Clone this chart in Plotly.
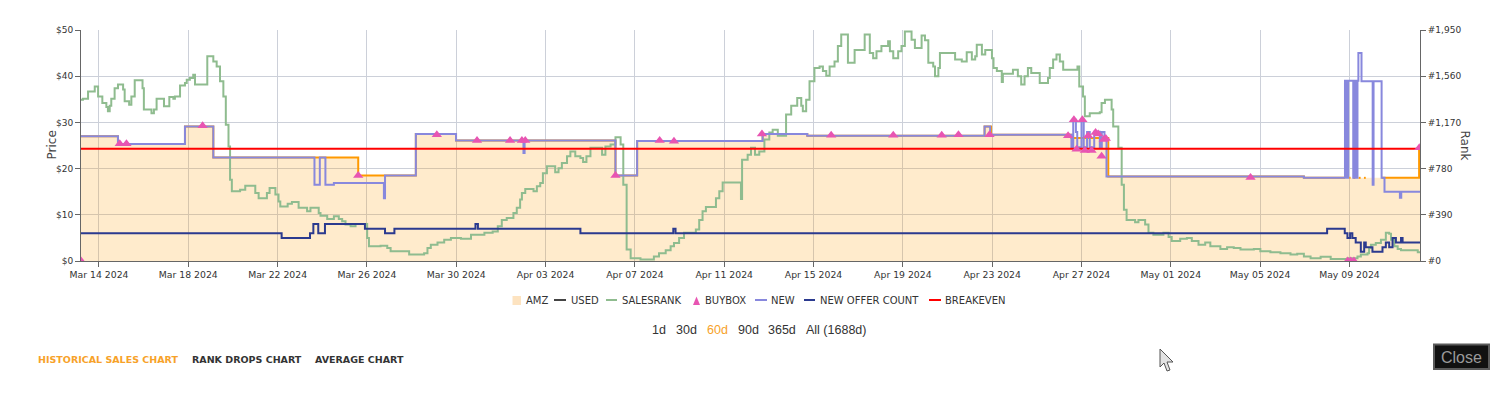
import pandas as pd
import plotly.graph_objects as go

# ---------------- data (day offsets from 2024-03-14 00:00) ----------------
BASE = "2024-03-14"
X_RANGE = ["2024-03-13 04:40", "2024-05-12 03:50"]

rank_day = [-0.81, -0.72, -0.49, -0.19, -0.04, 0.15, 0.33, 0.40, 0.48, 0.55,
            0.70, 0.85, 1.08, 1.15, 1.35, 1.45, 1.60, 1.95, 2.01, 2.35,
            2.46, 2.58, 2.91, 3.15, 3.33, 3.40, 3.63, 3.85, 3.93, 4.07,
            4.22, 4.30, 4.85, 5.12, 5.27, 5.42, 5.57, 5.68, 5.80, 5.87,
            5.95, 6.32, 6.55, 7.00, 7.15, 7.52, 7.64, 7.90, 8.04, 8.12,
            8.45, 8.64, 8.94, 9.32, 9.47, 9.84, 9.92, 10.22, 10.52, 10.74,
            10.89, 11.04, 11.27, 11.49, 12.01, 12.09, 12.61, 12.91, 13.06, 13.89,
            14.56, 14.71, 14.86, 15.16, 15.46, 15.76, 16.21, 16.66, 17.26, 17.63,
            17.86,
            18.04, 18.26, 18.56, 18.71, 18.86, 18.94, 19.09, 19.46, 19.61, 19.76,
            19.88, 20.06, 20.43, 20.58, 20.73, 20.96, 21.11, 21.33, 21.56, 21.68,
            21.83, 22.01, 22.53, 22.68, 22.91, 23.13, 23.36, 23.48, 23.63, 23.81,
            24.25, 24.85, 25.08, 25.38, 25.60, 25.75, 25.98, 26.20, 26.73, 26.88,
            27.03, 27.18, 27.63, 27.78, 27.93, 28.75, 28.80, 29.05, 29.20, 29.38,
            29.57, 29.80, 30.02, 30.17, 30.40, 30.77, 31.00, 31.27, 31.45, 31.52,
            31.67, 31.82, 32.04, 32.27, 32.42, 32.57, 32.72, 32.94, 33.09, 33.24,
            33.54, 33.84, 34.29, 34.52, 34.67, 34.82, 35.04, 35.34, 35.42, 35.57,
            35.79, 35.94, 36.09, 36.39, 36.54, 36.84, 36.99, 37.14, 37.36, 37.44,
            37.59, 37.66, 38.34, 38.64, 38.86, 39.09, 39.24, 39.31, 39.54, 39.69,
            39.99, 40.06, 40.21, 40.43,
            40.48, 40.93, 41.15, 41.30, 41.45, 41.60, 41.75, 42.13, 42.50, 42.58,
            42.73, 42.88, 43.03, 43.18, 43.82, 43.90, 44.07, 44.15, 44.37, 44.82,
            44.90, 45.05, 45.35, 45.42, 45.65, 45.80, 45.90, 46.02, 46.40, 46.55,
            46.85, 47.00, 47.22, 47.67, 47.90, 48.04, 48.42, 48.72, 48.94, 49.24,
            49.54, 49.77, 50.22, 50.52, 50.82, 51.12, 51.72, 52.01, 52.46, 52.91,
            53.36, 53.66, 53.96, 54.26, 54.71, 55.16, 55.91, 56.36, 56.51, 56.81,
            56.88, 56.96, 57.18, 57.41, 57.63, 57.78, 57.86, 58.01, 58.16, 58.31,
            59.06, 59.20]
rank_val = [1361, 1369, 1431, 1474, 1388, 1334, 1299, 1264, 1310, 1369,
            1459, 1490, 1447, 1349, 1318, 1388, 1525, 1459, 1279, 1248,
            1279, 1369, 1307, 1385, 1369, 1388, 1482, 1502, 1529, 1544,
            1572, 1490, 1728, 1685, 1642, 1517, 1388, 1151, 967, 686,
            589, 601, 636, 573, 530, 573, 616, 562, 503, 460,
            484, 499, 449, 421, 449, 406, 382, 355, 378, 355,
            335, 308, 293, 312, 195, 125, 129, 109, 82, 55,
            66, 109, 137, 156, 179, 195, 187, 222, 238, 250,
            293,
            347, 363, 406, 449, 519, 573, 608, 589, 632, 659,
            741, 800, 749, 784, 827, 885, 924, 885, 870, 835,
            885, 956, 897, 967, 983, 1045, 983, 644, 98, 23,
            12, 39, 66, 90, 125, 152, 195, 238, 265, 347,
            421, 456, 530, 589, 663, 523, 854, 897, 956, 897,
            924, 1026, 1084, 1108, 1057, 1236, 1310, 1377, 1310, 1264,
            1361, 1517, 1630, 1642, 1603, 1564, 1642, 1685, 1814, 1911,
            1673, 1782, 1911, 1755, 1712, 1771, 1814, 1856, 1771, 1712,
            1771, 1814, 1938, 1868, 1798, 1903, 1864, 1673, 1642, 1560,
            1630, 1755, 1700, 1685, 1763, 1700, 1728, 1825, 1743, 1782,
            1712, 1630, 1603, 1510,
            1580, 1615, 1560, 1490, 1560, 1630, 1587, 1502, 1544, 1630,
            1700, 1743, 1685, 1615, 1642, 1474, 1388, 1221, 1248, 1256,
            1334, 1361, 1279, 1135, 956, 644, 433, 347, 328, 347,
            308, 238, 222, 238, 203, 168, 187, 195, 168, 137,
            156, 125, 101, 117, 109, 98, 101, 82, 74, 66,
            55, 62, 39, 23, 35, 16, 23, 39, 55, 66,
            109, 137, 152, 179, 238, 230, 179, 125, 101, 90,
            74, 66]

new_day = [-0.81, 0.85, 3.85, 5.12, 9.65, 9.89, 10.14, 10.52, 12.76, 12.81,
           14.19, 15.99, 19.01, 19.06, 23.13, 24.10, 29.72, 31.72, 39.66, 39.91,
           43.55, 43.63, 43.75, 43.81, 44.00, 44.10, 44.25, 44.37, 44.57, 44.82,
           44.91, 45.03, 45.12, 53.96, 55.80, 55.84, 55.87, 55.91, 55.94, 56.17,
           56.20, 56.24, 56.28, 56.32, 56.36, 56.40, 56.54, 57.04, 57.08, 57.44,
           57.57, 58.26, 58.32, 59.20]
new_val = [27.0, 25.3, 29.1, 22.4, 16.5, 22.4, 16.5, 16.9, 13.6, 18.5,
           27.5, 26.1, 23.4, 26.1, 18.5, 26.0, 27.5, 27.1, 29.1, 27.3,
           24.6, 30.6, 27.9, 24.6, 30.6, 24.6, 27.9, 24.6, 28.0, 24.6,
           27.9, 26.4, 18.3, 18.0, 39.0, 18.0, 39.0, 18.0, 39.0, 18.0,
           39.0, 18.0, 39.0, 18.0, 39.0, 45.0, 38.9, 16.5, 38.9, 18.0,
           15.0, 13.7, 15.0, 15.0]

amz_day = [-0.81, 0.85, 3.85, 5.12, 11.61, 14.19, 15.99, 23.13, 24.10, 29.72,
           31.72, 39.66, 39.95, 43.55, 45.20, 53.96, 55.80, 55.81, 55.99, 56.05,
           56.06, 56.17, 56.26, 56.27, 56.41, 56.50, 56.51, 56.65, 56.73, 56.74,
           57.44, 59.12, 59.20]
amz_val = [27.0, 25.3, 29.1, 22.4, 18.5, 27.5, 26.1, 18.5, 26.0, 27.5,
           27.1, 29.1, 27.3, 26.6, 18.3, 18.0, 18.0, None, 18.0, 18.0,
           None, 18.0, 18.0, None, 18.0, 18.0, None, 18.0, 18.0, None,
           18.0, 24.5, 24.5]

offer_day = [-0.81, 8.18, 9.45, 9.60, 9.82, 10.12, 11.91, 12.81, 13.23, 16.86,
             16.97, 21.56, 25.72, 25.82, 55.00, 55.79, 55.91, 56.03, 56.13, 56.28,
             56.51, 56.66, 56.73, 57.03, 57.48, 57.63, 57.78, 57.93, 58.08, 58.31,
             58.38, 59.20]
offer_val = [6, 5, 6, 8, 6, 8, 7, 6, 7, 8,
             7, 6, 7, 6, 7, 6, 5, 6, 5, 4,
             2, 4, 3, 2, 3, 4, 3, 5, 4, 5,
             4, 4]

buybox_day = [-0.80, 0.93, 1.23, 4.64, 11.61, 15.13, 16.93, 18.41, 18.94, 19.09,
              23.13, 25.11, 25.75, 29.69, 32.79, 35.57, 37.74, 38.49, 39.88, 43.40,
              43.66, 43.78, 44.04, 44.15, 44.30, 44.45, 44.63, 44.75, 44.90, 45.00,
              45.09, 51.57, 55.92, 56.06, 56.20, 59.13]
buybox_val = [0, 25.4, 25.4, 29.3, 18.5, 27.3, 26.1, 26.1, 26.1, 26.1,
              18.5, 26.1, 25.9, 27.5, 27.2, 27.2, 27.2, 27.3, 27.3, 27.1,
              30.6, 24.2, 30.6, 23.9, 27.1, 23.9, 27.8, 27.5, 22.7, 26.3,
              26.5, 18.1, 0, 0, 0, 24.5]

breakeven_day = [-0.81, 59.20]
breakeven_val = [24.3, 24.3]

legend_labels = ["AMZ", "USED", "SALESRANK", "BUYBOX", "NEW", "NEW OFFER COUNT", "BREAKEVEN"]
range_labels = ["1d", "30d", "60d", "90d", "365d", "All (1688d)"]
chart_links = ["HISTORICAL SALES CHART", "RANK DROPS CHART", "AVERAGE CHART"]

# ---------------- styling ----------------
C_AMZ_LINE = "#ff9900"
C_AMZ_FILL = "rgba(255,153,0,0.2)"
C_USED = "#444444"
C_RANK = "#8fbc8f"
C_BUYBOX = "#e855b2"
C_NEW = "#8888dd"
C_OFFER = "#2b3a8f"
C_BREAK = "#ff0000"
C_GRID = "#ccd0d9"
C_AXIS = "#666666"
C_TEXT = "#333333"
C_ORANGE = "#f7a229"

W, H = 1506, 393
L, R, T, B = 81, 86, 30, 132
PW, PH = W - L - R, H - T - B


def tx(d):
    return pd.Timestamp(BASE) + pd.to_timedelta(d, unit="D")


def px(x):
    return (x - L) / PW


def py(y):
    return (T + PH - y) / PH


fig = go.Figure()

fig.add_trace(go.Scatter(x=[tx(d) for d in amz_day], y=amz_val, name="AMZ", yaxis="y",
                         mode="lines", line=dict(color=C_AMZ_LINE, width=2, shape="hv"),
                         fill="tozeroy", fillcolor=C_AMZ_FILL, connectgaps=False,
                         hoverinfo="skip"))
fig.add_trace(go.Scatter(x=[tx(d) for d in rank_day], y=rank_val, name="SALESRANK", yaxis="y2",
                         mode="lines", line=dict(color=C_RANK, width=2, shape="hv"),
                         hoverinfo="skip"))
fig.add_trace(go.Scatter(x=[tx(d) for d in new_day], y=new_val, name="NEW", yaxis="y3",
                         mode="lines", line=dict(color=C_NEW, width=2, shape="hv"),
                         hoverinfo="skip"))
fig.add_trace(go.Scatter(x=[tx(d) for d in offer_day], y=offer_val, name="NEW OFFER COUNT", yaxis="y3",
                         mode="lines", line=dict(color=C_OFFER, width=2, shape="hv"),
                         hoverinfo="skip"))
fig.add_trace(go.Scatter(x=[tx(d) for d in breakeven_day], y=breakeven_val, name="BREAKEVEN", yaxis="y3",
                         mode="lines", line=dict(color=C_BREAK, width=2),
                         hoverinfo="skip"))
fig.add_trace(go.Scatter(x=[tx(d) for d in buybox_day], y=buybox_val, name="BUYBOX", yaxis="y3",
                         mode="markers", marker=dict(symbol="triangle-up", size=9, color=C_BUYBOX,
                                                     line=dict(width=0)),
                         hoverinfo="skip"))

axis_font = dict(family="DejaVu Sans", size=9, color=C_TEXT)

fig.update_layout(
    width=W, height=H, autosize=False,
    margin=dict(l=L, r=R, t=T, b=B, pad=0),
    paper_bgcolor="white", plot_bgcolor="white",
    showlegend=False, hovermode=False,
    font=dict(family="DejaVu Sans", size=9, color=C_TEXT),
    xaxis=dict(type="date", range=[pd.Timestamp(X_RANGE[0]), pd.Timestamp(X_RANGE[1])],
               tick0=pd.Timestamp(BASE), dtick=4 * 86400000, tickformat="%b %d %Y",
               showgrid=True, gridcolor=C_GRID, gridwidth=1,
               showline=True, linecolor=C_AXIS, linewidth=1,
               ticks="outside", ticklen=5, tickcolor=C_AXIS,
               tickfont=dict(family="DejaVu Sans", size=9.3, color=C_TEXT),
               zeroline=False, automargin=False, fixedrange=True),
    yaxis=dict(range=[0, 50], tick0=0, dtick=10, tickprefix="$",
               showgrid=True, gridcolor=C_GRID, gridwidth=1,
               showline=True, linecolor=C_AXIS, linewidth=1,
               ticks="outside", ticklen=5, tickcolor=C_AXIS,
               tickfont=axis_font, zeroline=False, automargin=False, fixedrange=True),
    yaxis2=dict(range=[0, 1950], tick0=0, dtick=390, tickprefix="#", tickformat=",d",
                overlaying="y", side="right", showgrid=False,
                showline=True, linecolor=C_AXIS, linewidth=1,
                ticks="outside", ticklen=5, tickcolor=C_AXIS,
                tickfont=axis_font, zeroline=False, automargin=False, fixedrange=True),
    yaxis3=dict(range=[0, 50], overlaying="y", visible=False, fixedrange=True),
)

shapes = []
annotations = []

# axis titles
annotations.append(dict(x=px(42), y=py(145.5), xref="paper", yref="paper", text="Price",
                        textangle=-90, showarrow=False,
                        font=dict(family="DejaVu Sans", size=12, color="#444444")))
annotations.append(dict(x=px(1474), y=py(145.5), xref="paper", yref="paper", text="Rank",
                        textangle=90, showarrow=False,
                        font=dict(family="DejaVu Sans", size=12, color="#444444")))

# custom legend
LEG_Y = 300
sym_x = [(512.5, 521), (554, 566), (606, 617), (693, 700), (755, 767), (804, 815), (929, 941)]
txt_x = [524, 568.5, 620, 703, 769, 818, 943]
sym_col = ["#fde3c0", C_USED, C_RANK, C_BUYBOX, C_NEW, C_OFFER, C_BREAK]
for i, lab in enumerate(legend_labels):
    x0, x1 = sym_x[i]
    if lab == "AMZ":
        shapes.append(dict(type="rect", xref="paper", yref="paper",
                           x0=px(x0), x1=px(x1), y0=py(305), y1=py(296),
                           fillcolor=sym_col[i], line=dict(width=0)))
    elif lab == "BUYBOX":
        path = "M {} {} L {} {} L {} {} Z".format(px(x0), py(305), px(x1), py(305),
                                                  px((x0 + x1) / 2), py(296.5))
        shapes.append(dict(type="path", xref="paper", yref="paper", path=path,
                           fillcolor=sym_col[i], line=dict(width=0)))
    else:
        shapes.append(dict(type="line", xref="paper", yref="paper",
                           x0=px(x0), x1=px(x1), y0=py(LEG_Y), y1=py(LEG_Y),
                           line=dict(color=sym_col[i], width=2)))
    annotations.append(dict(x=px(txt_x[i]), y=py(LEG_Y), xref="paper", yref="paper",
                            text=lab, showarrow=False, xanchor="left", yanchor="middle",
                            font=dict(family="DejaVu Sans", size=10, color=C_TEXT)))

# range selector texts
range_x = [650, 673.5, 704.5, 735.5, 766, 803.5]
for i, lab in enumerate(range_labels):
    annotations.append(dict(x=px(range_x[i]), y=py(330), xref="paper", yref="paper",
                            text=lab, showarrow=False, xanchor="left", yanchor="middle",
                            font=dict(family="Liberation Sans", size=12.5,
                                      color=C_ORANGE if lab == "60d" else C_TEXT)))

# chart links
link_x = [36, 190, 313]
for i, lab in enumerate(chart_links):
    annotations.append(dict(x=px(link_x[i]), y=py(359), xref="paper", yref="paper",
                            text="<b>" + lab + "</b>", showarrow=False, xanchor="left", yanchor="middle",
                            font=dict(family="DejaVu Sans", size=9.5,
                                      color=C_ORANGE if i == 0 else C_TEXT)))

# close button
shapes.append(dict(type="rect", xref="paper", yref="paper",
                   x0=px(1434), x1=px(1489), y0=py(369), y1=py(344.5),
                   fillcolor="#111111", line=dict(color="#5a5a5a", width=2)))
annotations.append(dict(x=px(1461.5), y=py(357), xref="paper", yref="paper",
                        text="Close", showarrow=False, xanchor="center", yanchor="middle",
                        font=dict(family="Liberation Sans", size=16, color="#9a9a9a")))

# mouse pointer
pts = [(1160, 349), (1160, 367), (1164, 363), (1167, 371), (1170, 370), (1167, 362), (1173, 362)]
path = "M " + " L ".join("{} {}".format(px(a), py(b)) for a, b in pts) + " Z"
shapes.append(dict(type="path", xref="paper", yref="paper", path=path,
                   fillcolor="#e2e2e2", line=dict(color="#555555", width=1)))

fig.update_layout(shapes=shapes, annotations=annotations)

fig.write_html("out.html", include_plotlyjs=True, full_html=True,
               config=dict(displayModeBar=False, staticPlot=True),
               post_script="document.body.style.margin='0';")
